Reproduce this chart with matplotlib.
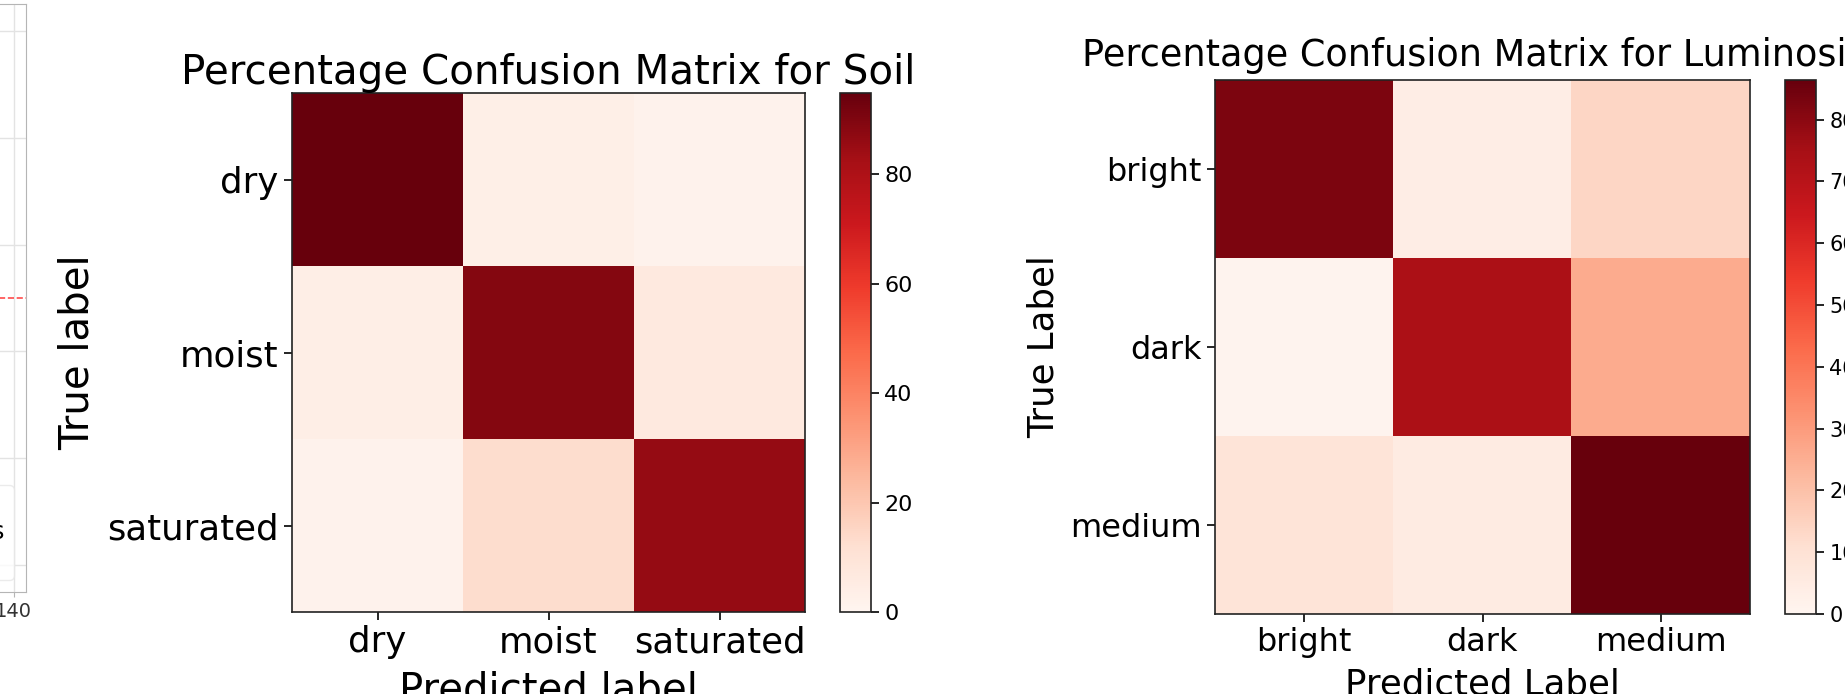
import numpy as np
import matplotlib
matplotlib.use("Agg")
import matplotlib.pyplot as plt

# soil confusion matrix (row-normalised, %)
soil_labels = ["dry", "moist", "saturated"]
soil_dry = [94.8, 3.6, 1.6]
soil_moist = [4.0, 89.2, 6.8]
soil_saturated = [1.6, 12.6, 85.8]

# luminosity confusion matrix (row-normalised, %)
lum_labels = ["bright", "dark", "medium"]
lum_bright = [82.4, 4.0, 13.6]
lum_dark = [0.8, 73.5, 25.7]
lum_medium = [8.6, 5.0, 86.4]

# partially visible left panel
left_xticks = [0, 20, 40, 60, 80, 100, 120, 140]
threshold = 2.50
threshold_label = "Threshold crossings"

W, H = 1845, 694


def px(l, t, r, b):
    return [l / W, 1 - b / H, (r - l) / W, (b - t) / H]


fig = plt.figure(figsize=(W / 100, H / 100), dpi=100)

# left panel, mostly outside the frame
ax0 = fig.add_axes(px(-420, 4, 26, 592))
ax0.axhline(threshold, color="red", ls="--", lw=1.2, alpha=0.7, label=threshold_label)
ax0.set_xlim(0, 144)
ax0.set_ylim(-0.25, 5.25)
ax0.set_xticks(left_xticks)
ax0.set_yticks(range(6))
ax0.grid(True, color="#e3e3e3", lw=1)
for s in ax0.spines.values():
    s.set_color("#b5b5b5")
ax0.tick_params(colors="#b5b5b5", labelcolor="#333333", labelsize=14)
ax0.legend(loc="lower right", fontsize=17, handleheight=4.6,
           borderaxespad=0.5, framealpha=0.8, edgecolor="#e6e6e6")


def conf_panel(rect, crect, rows, labels, title, xlabel, ylabel,
               fs_title, fs_tick, fs_label, fs_cbar, cticks, tpad, xpad, ypad):
    ax = fig.add_axes(px(*rect))
    cax = fig.add_axes(px(*crect))
    cm = np.array(rows)
    im = ax.imshow(cm, cmap="Reds", aspect="auto", interpolation="nearest",
                   vmin=0, vmax=cm.max())
    ax.set_xticks(range(len(labels)))
    ax.set_yticks(range(len(labels)))
    ax.set_xticklabels(labels, fontsize=fs_tick)
    ax.set_yticklabels(labels, fontsize=fs_tick)
    ax.set_title(title, fontsize=fs_title, pad=tpad)
    ax.set_xlabel(xlabel, fontsize=fs_label, labelpad=xpad)
    ax.set_ylabel(ylabel, fontsize=fs_label, labelpad=ypad)
    for s in ax.spines.values():
        s.set_color("#222222")
        s.set_linewidth(1.2)
    ax.tick_params(length=6, width=1.2)
    cb = fig.colorbar(im, cax=cax)
    if cticks is not None:
        cb.set_ticks(cticks)
    cb.ax.tick_params(labelsize=fs_cbar, length=6, width=1.2)
    cb.outline.set_linewidth(1.2)
    cb.outline.set_edgecolor("#222222")
    return ax


conf_panel((292, 93, 805, 612), (840, 93, 871, 612),
           [soil_dry, soil_moist, soil_saturated], soil_labels,
           "Percentage Confusion Matrix for Soil", "Predicted label", "True label",
           29.1, 25.6, 29, 16, np.arange(0, 81, 20), 6, 8, 7)

conf_panel((1215, 80, 1750, 614), (1785, 80, 1816, 614),
           [lum_bright, lum_dark, lum_medium], lum_labels,
           "Percentage Confusion Matrix for Luminosity", "Predicted Label", "True Label",
           26.4, 23, 25.6, 15, np.arange(0, 81, 10), 10, 7, 7)

fig.savefig("out.png", dpi=100)
